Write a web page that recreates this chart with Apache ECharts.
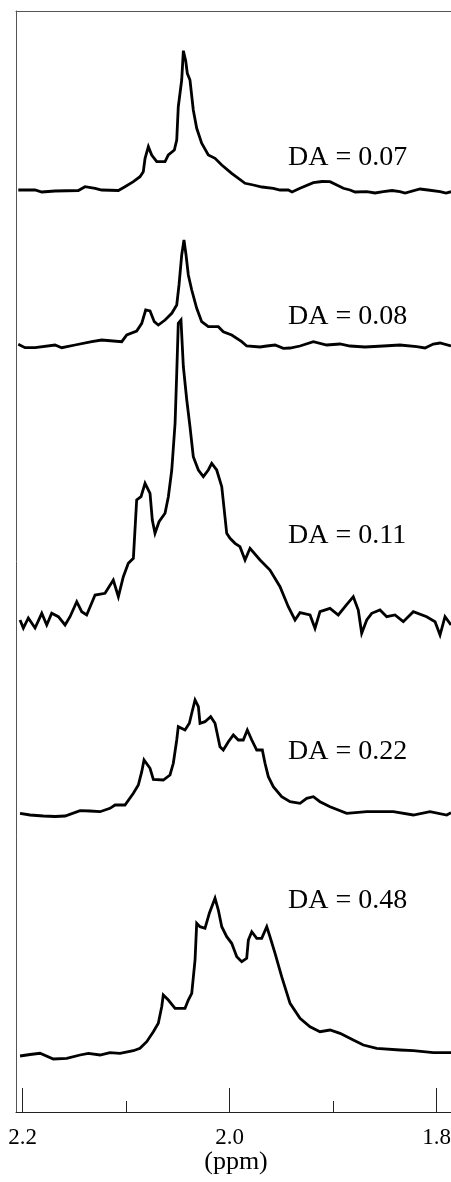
<!DOCTYPE html>
<html><head><meta charset="utf-8">
<script src="https://cdn.jsdelivr.net/npm/echarts@6/dist/echarts.min.js"></script>
<style>html,body{margin:0;padding:0;background:#fff;overflow:hidden}#c{width:451px;height:1182px}</style>
</head><body><div id="c"></div>
<script>
// ---- data ----
const traceLabels = ['DA = 0.07', 'DA = 0.08', 'DA = 0.11', 'DA = 0.22', 'DA = 0.48'];
const tickValues = [2.2, 2.0, 1.8];
const minorTickValues = [2.1, 1.9];
const axisTitle = '(ppm)';

const ppm1 = [2.2043,2.1881,2.1816,2.1753,2.1688,2.1463,2.1398,2.1301,2.1237,2.1076,2.1012,2.0931,2.0867,2.0835,2.0818,2.0786,2.0754,2.0705,2.0625,2.0593,2.0535,2.0512,2.0497,2.0464,2.0448,2.0425,2.0410,2.0384,2.0352,2.0319,2.0271,2.0207,2.0142,2.0077,1.9981,1.9852,1.9772,1.9688,1.9579,1.9514,1.9434,1.9398,1.9321,1.9192,1.9108,1.9031,1.8902,1.8838,1.8789,1.8676,1.8596,1.8516,1.8432,1.8355,1.8306,1.8161,1.8084,1.7968,1.7910,1.7862];
const int1 = [-1,-1,-3,-2.5,-2,-1.5,2.3,0.7,-1,-1.5,2.3,7.3,12.3,17.3,30.7,42.3,34,27.3,27.3,34,39,49,82.3,109,138.3,128,115.7,109,79,60.7,45.7,34,30.7,24,15.7,5.7,4,2,0.7,-1,-1,-3,0.7,6.3,7.5,7.3,0.7,-1,-3,-2.7,-4,-2.7,-1.5,-2.7,-4,0,-1,-2.7,-4,-2.7];

const ppm2 = [2.2043,2.1978,2.1881,2.1688,2.1623,2.1495,2.1333,2.1237,2.1043,2.0995,2.0899,2.0850,2.0812,2.0770,2.0729,2.0690,2.0625,2.0560,2.0512,2.0490,2.0464,2.0442,2.0422,2.0400,2.0367,2.0319,2.0271,2.0207,2.0110,2.0062,1.9981,1.9884,1.9836,1.9707,1.9642,1.9562,1.9482,1.9417,1.9321,1.9192,1.9063,1.8934,1.8838,1.8693,1.8516,1.8355,1.8193,1.8113,1.8033,1.7968,1.7862];
const int2 = [0.7,-2.7,-2.7,0,-2.7,0,3.3,5,3.3,10,14,21.7,35,34,23.3,20,25,31.7,40,60,90,105,90,70,55,36.7,23.3,18.3,18.3,13.3,10,3.3,-1,-2,-1,0,-3.3,-3,-1,3.3,0,1,-1,-2,-1,0,-1.7,-3,1,2,-1];

const ppm3 = [2.2026,2.1994,2.1946,2.1881,2.1816,2.1768,2.1720,2.1656,2.1591,2.1543,2.1478,2.1430,2.1382,2.1301,2.1205,2.1125,2.1076,2.1028,2.0980,2.0931,2.0899,2.0857,2.0818,2.0770,2.0748,2.0722,2.0683,2.0625,2.0593,2.0560,2.0528,2.0512,2.0497,2.0471,2.0448,2.0415,2.0384,2.0352,2.0303,2.0255,2.0207,2.0174,2.0126,2.0077,2.0029,1.9997,1.9949,1.9901,1.9852,1.9804,1.9707,1.9611,1.9514,1.9434,1.9369,1.9321,1.9224,1.9176,1.9128,1.9031,1.8951,1.8886,1.8806,1.8758,1.8725,1.8676,1.8628,1.8548,1.8483,1.8403,1.8323,1.8226,1.8097,1.8016,1.7968,1.7920,1.7862];
const int3 = [-2,-10,0,-10,4.7,-7,4.7,1.3,-7,1.3,16.3,6.3,3,23,24.7,38,21.3,41.3,54.7,59.7,118,121.3,134.7,124.7,98,84.7,96.3,104.7,121.3,148,194.7,244.7,294.7,298,251.3,218,191.3,161.3,148,141.3,148,154.7,148,131.3,84.7,79.7,74.7,71.3,58,69.7,58,48,31.3,11.3,-2,5.3,3,-10.3,6.3,9.7,3,11.3,21.3,8,-15.3,-2,4.7,8,1.3,3,-3.7,6.3,1.3,-3.7,-17,1.3,-7];

const ppm4 = [2.2026,2.1929,2.1801,2.1688,2.1591,2.1446,2.1350,2.1253,2.1157,2.1108,2.1012,2.0931,2.0883,2.0850,2.0828,2.0770,2.0738,2.0642,2.0577,2.0545,2.0512,2.0497,2.0432,2.0390,2.0367,2.0335,2.0303,2.0287,2.0239,2.0184,2.0142,2.0094,2.0062,2.0013,1.9965,1.9917,1.9869,1.9830,1.9787,1.9739,1.9685,1.9659,1.9627,1.9579,1.9498,1.9417,1.9321,1.9256,1.9192,1.9128,1.9031,1.8870,1.8676,1.8419,1.8226,1.8065,1.7903,1.7862];
const int4 = [0.7,-1,-2,-2.5,-2,3.3,3,2.3,5.7,9,9,20.7,29,42.3,54,45.7,34.7,34,39,50.7,74,87.3,84,90.7,100.7,114,107.3,90.7,92.3,97.3,90.7,67.3,64,72.3,79,74,74,84,74,64,64,50.7,37.3,27.3,17.3,12.3,10.7,15.7,17.3,12.3,7.3,0.7,2.3,2.3,-1,2.3,-1,1.3];

const ppm5 = [2.2026,2.1929,2.1833,2.1704,2.1575,2.1446,2.1366,2.1253,2.1157,2.1060,2.0931,2.0867,2.0802,2.0738,2.0690,2.0657,2.0642,2.0593,2.0528,2.0432,2.0400,2.0367,2.0335,2.0319,2.0287,2.0239,2.0197,2.0142,2.0110,2.0077,2.0029,1.9981,1.9932,1.9884,1.9836,1.9820,1.9787,1.9739,1.9691,1.9642,1.9611,1.9562,1.9498,1.9417,1.9321,1.9224,1.9128,1.9031,1.8934,1.8806,1.8709,1.8580,1.8355,1.8226,1.8033,1.7862];
const int5 = [0,1.5,2.7,-3,-2.3,1,2.7,1,3.3,2.7,5.3,7.7,14.3,24.3,32.7,49.3,61,56,47.7,47.7,56,62.7,96,132.7,129.3,127.7,142.7,157.7,146,129.3,119.3,112.7,99.3,94.3,97.7,116,124.3,117.7,117.7,129.3,119.3,102.7,79.3,52.7,37.7,29.3,24.3,26,22.7,16,11,7.7,6,5.3,3.3,3.3];

// ---- layout (not data) ----
const X_MIN = 1.7862, X_MAX = 2.2065;
const Y_MAX = 1101;
const traceOffsets = [923, 767, 494, 298, 56];   // vertical stacking of the traces
const labelPos = [[288,158],[288,317],[288,536],[288,752],[288,901]];
const SERIF = '"Liberation Serif", "Times New Roman", serif';

const traces = [[ppm1,int1],[ppm2,int2],[ppm3,int3],[ppm4,int4],[ppm5,int5]];
const series = traces.map(([xs, ys], i) => ({
  type: 'line',
  name: traceLabels[i],
  xAxisIndex: 0, yAxisIndex: 0,
  data: xs.slice(0, Math.min(xs.length, ys.length)).map((x, k) => [x, ys[k] + traceOffsets[i]]),
  showSymbol: false, symbol: 'none',
  lineStyle: { color: '#000', width: 2.8, join: 'miter', miterLimit: 4 },
  silent: true, animation: false
}));

const baseX = { type: 'value', min: X_MIN, max: X_MAX, inverse: true, splitLine: { show: false } };
const chart = echarts.init(document.getElementById('c'), null, { renderer: 'canvas' });
chart.setOption({
  animation: false,
  backgroundColor: '#fff',
  grid: { left: 16, top: 11, right: 0, bottom: 70, show: false, containLabel: false, outerBoundsMode: 'none' },
  xAxis: [
    Object.assign({}, baseX, {
      position: 'bottom',
      axisLine: { show: true, onZero: false, lineStyle: { color: '#222', width: 1 } },
      axisTick: { show: true, inside: true, length: 24, customValues: tickValues, lineStyle: { color: '#222', width: 1 } },
      axisLabel: { show: true, customValues: tickValues, formatter: v => Number(v).toFixed(1), fontFamily: SERIF, fontSize: 23, color: '#000', margin: 14 }
    }),
    Object.assign({}, baseX, {
      position: 'bottom', offset: 0,
      axisLine: { show: false },
      axisTick: { show: true, inside: true, length: 11, customValues: minorTickValues, lineStyle: { color: '#222', width: 1 } },
      axisLabel: { show: false }
    }),
    Object.assign({}, baseX, {
      position: 'top', offset: 0,
      axisLine: { show: true, onZero: false, lineStyle: { color: '#555', width: 1 } },
      axisTick: { show: false }, axisLabel: { show: false }
    })
  ],
  yAxis: {
    type: 'value', min: 0, max: Y_MAX, position: 'left',
    axisLine: { show: true, onZero: false, lineStyle: { color: '#555', width: 1 } },
    axisTick: { show: false }, axisLabel: { show: false }, splitLine: { show: false }
  },
  series: series,
  graphic: traceLabels.map((t, i) => ({
    type: 'text', x: labelPos[i][0], y: labelPos[i][1], silent: true,
    style: { text: t, fontFamily: SERIF, fontSize: 28, fill: '#000', verticalAlign: 'middle', align: 'left' }
  })).concat([{
    type: 'text', x: 236, y: 1162, silent: true,
    style: { text: axisTitle, fontFamily: SERIF, fontSize: 26, fill: '#000', verticalAlign: 'middle', align: 'center' }
  }])
});
</script>
</body></html>
